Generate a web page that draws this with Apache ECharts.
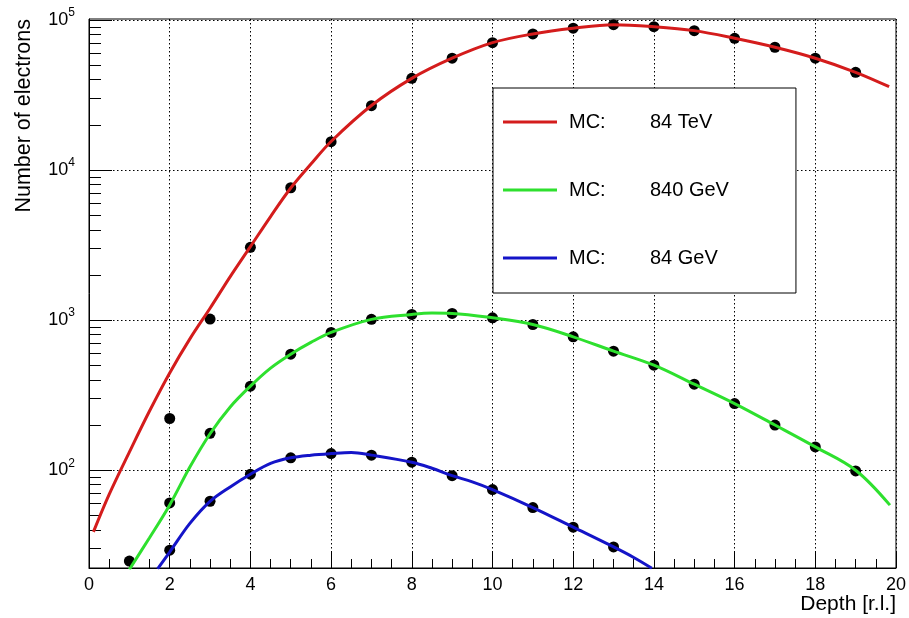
<!DOCTYPE html>
<html>
<head>
<meta charset="utf-8">
<script src="https://cdn.jsdelivr.net/npm/echarts@6/dist/echarts.min.js"></script>
<style>html,body{margin:0;padding:0;background:#fff}#c{width:909px;height:618px}</style>
</head>
<body>
<div id="c"></div>
<script>
// ---- data ----
const energies = ['84 TeV', '840 GeV', '84 GeV'];
const lineColors = ['#d41c1c', '#2ee02e', '#1414c8'];

const redDepth = [2,3,4,5,6,7,8,9,10,11,12,13,14,15,16,17,18,19];
const redPoints = [221,1016,3055,7620,15460,26850,40850,55600,70600,80700,88100,93000,90200,84900,75500,65800,55600,44800];
const greenDepth = [1,2,3,4,5,6,7,8,9,10,11,12,13,14,15,16,17,18,19];
const greenPoints = [24.8,60.5,176,363,593,828,1012,1091,1109,1036,935,774,621,501,374,278,200,143,98.9];
const blueDepth = [2,3,4,5,6,7,8,9,10,11,12,13];
const bluePoints = [29.3,62.1,94,121,129,126,113,92,74.3,56.4,41.7,30.8];

const redCurveX = [0.11,0.5,1,1.5,2,2.5,3,3.5,4,4.5,5,5.5,6,7,8,9,10,11,12,13,14,15,16,17,18,19,19.83];
const redCurveY = [38.8,69,132,248,445,750,1200,1950,3090,4900,7590,10960,15500,26900,40800,55600,70600,80700,88100,93000,90200,84900,75500,65800,55600,44800,35900];
const greenCurveX = [1.0,1.5,2,2.5,3,3.5,4,4.5,5,5.5,6,7,8,8.5,9,10,11,12,13,14,15,16,17,18,19,19.85];
const greenCurveY = [21.8,35.5,58.7,105,175,264,363,479,593,710,828,1012,1091,1115,1109,1036,935,774,621,501,374,278,200,143,100,58.5];
const blueCurveX = [1.7,2,2.5,3,3.5,4,4.5,5,5.5,6,6.5,7,8,8.5,9,9.5,10,11,12,13,13.5,13.95];
const blueCurveY = [22,28.5,44.2,62,77.4,94,111,121,126,129,131,126,113,103,92,83.6,74.3,56.4,41.7,30.8,26.2,22.2];

const xMin = 0, xMax = 20, xStep = 2;
const yMin = 22.3, yMax = 101500;
const yMajor = [100, 1000, 10000, 100000];
const yMinor = [30,40,50,60,70,80,90,200,300,400,500,600,700,800,900,2000,3000,4000,5000,6000,7000,8000,9000,20000,30000,40000,50000,60000,70000,80000,90000];

const xTitle = 'Depth [r.l.]';
const yTitle = 'Number of electrons';

// ---- build ----
function zip(a, b) { return a.map((v, i) => [v, b[i]]); }
const FONT = '"Liberation Sans", Arial, Helvetica, sans-serif';
const supDigits = {100:'2',1000:'3',10000:'4',100000:'5'};

const chart = echarts.init(document.getElementById('c'), null, {renderer: 'canvas'});
const dotted = {color: '#000', width: 1, type: [1.5, 2.5]};

const curves = [zip(redCurveX, redCurveY), zip(greenCurveX, greenCurveY), zip(blueCurveX, blueCurveY)];
const points = [zip(redDepth, redPoints), zip(greenDepth, greenPoints), zip(blueDepth, bluePoints)];

const series = [];
points.forEach((p, i) => {
  series.push({
    type: 'scatter', name: 'pts' + i, data: p, symbol: 'circle', symbolSize: 11,
    itemStyle: {color: '#000', opacity: 1}, z: 2, silent: true
  });
});
curves.forEach((c, i) => {
  series.push({
    type: 'line', name: energies[i], data: c, smooth: 0.35, symbol: 'none', showSymbol: false,
    lineStyle: {color: lineColors[i], width: 3}, itemStyle: {color: lineColors[i]}, z: 3, clip: true, silent: true
  });
});

chart.setOption({
  animation: false,
  backgroundColor: '#fff',
  grid: {left: 89, right: 12, top: 19, bottom: 50, show: true, borderColor: '#000', borderWidth: 1, backgroundColor: 'transparent'},
  xAxis: {
    type: 'value', min: xMin, max: xMax, interval: xStep,
    axisLine: {show: true, lineStyle: {color: '#000', width: 1}},
    axisTick: {show: true, inside: true, length: 16, lineStyle: {color: '#000'}},
    minorTick: {show: true, splitNumber: 4, length: 9, lineStyle: {color: '#000'}},
    axisLabel: {color: '#000', fontFamily: FONT, fontSize: 18, margin: 8, showMinLabel: true, showMaxLabel: true},
    splitLine: {show: true, lineStyle: dotted},
    name: xTitle, nameLocation: 'end', nameGap: 0,
    nameTextStyle: {color: '#000', fontFamily: FONT, fontSize: 21, align: 'right', verticalAlign: 'top', padding: [26, 0, 0, 0]}
  },
  yAxis: [{
    type: 'log', logBase: 10, min: yMin, max: yMax,
    axisLine: {show: true, lineStyle: {color: '#000', width: 1}},
    axisTick: {show: true, inside: true, length: 23, customValues: yMajor, lineStyle: {color: '#000'}},
    axisLabel: {
      customValues: yMajor, margin: 14, color: '#000',
      formatter: v => '{b|10}{s|' + (supDigits[Math.round(v)] || '') + '}',
      rich: {
        b: {fontFamily: FONT, fontSize: 18, lineHeight: 26, color: '#000'},
        s: {fontFamily: FONT, fontSize: 12, lineHeight: 12, verticalAlign: 'top', color: '#000'}
      }
    },
    splitLine: {show: true, lineStyle: dotted},
    minorTick: {show: false},
    name: yTitle, nameLocation: 'end', nameGap: 0, nameRotate: 90,
    nameTextStyle: {color: '#000', fontFamily: FONT, fontSize: 21.5, align: 'right', verticalAlign: 'bottom', padding: [0, 0, 54, 0]}
  }, {
    type: 'log', logBase: 10, min: yMin, max: yMax, position: 'left',
    axisLine: {show: false},
    axisTick: {show: true, inside: true, length: 12, customValues: yMinor, lineStyle: {color: '#000'}},
    axisLabel: {show: false},
    splitLine: {show: false},
    minorTick: {show: false}
  }],
  legend: {
    show: true, orient: 'vertical', left: 493, top: 88,
    data: energies,
    icon: 'rect',
    backgroundColor: '#fff', borderColor: '#000', borderWidth: 1,
    padding: [24, 67, 25, 10],
    itemWidth: 54, itemHeight: 3, itemGap: 48,
    selectedMode: false,
    formatter: n => '{a|MC:}{b|' + n + '}',
    textStyle: {
      color: '#000', fontFamily: FONT, fontSize: 20, lineHeight: 20,
      rich: {
        a: {fontFamily: FONT, fontSize: 20, lineHeight: 20, width: 81, padding: [0, 0, 0, 7], color: '#000'},
        b: {fontFamily: FONT, fontSize: 20, lineHeight: 20, color: '#000'}
      }
    }
  },
  series: series
});
</script>
</body>
</html>
